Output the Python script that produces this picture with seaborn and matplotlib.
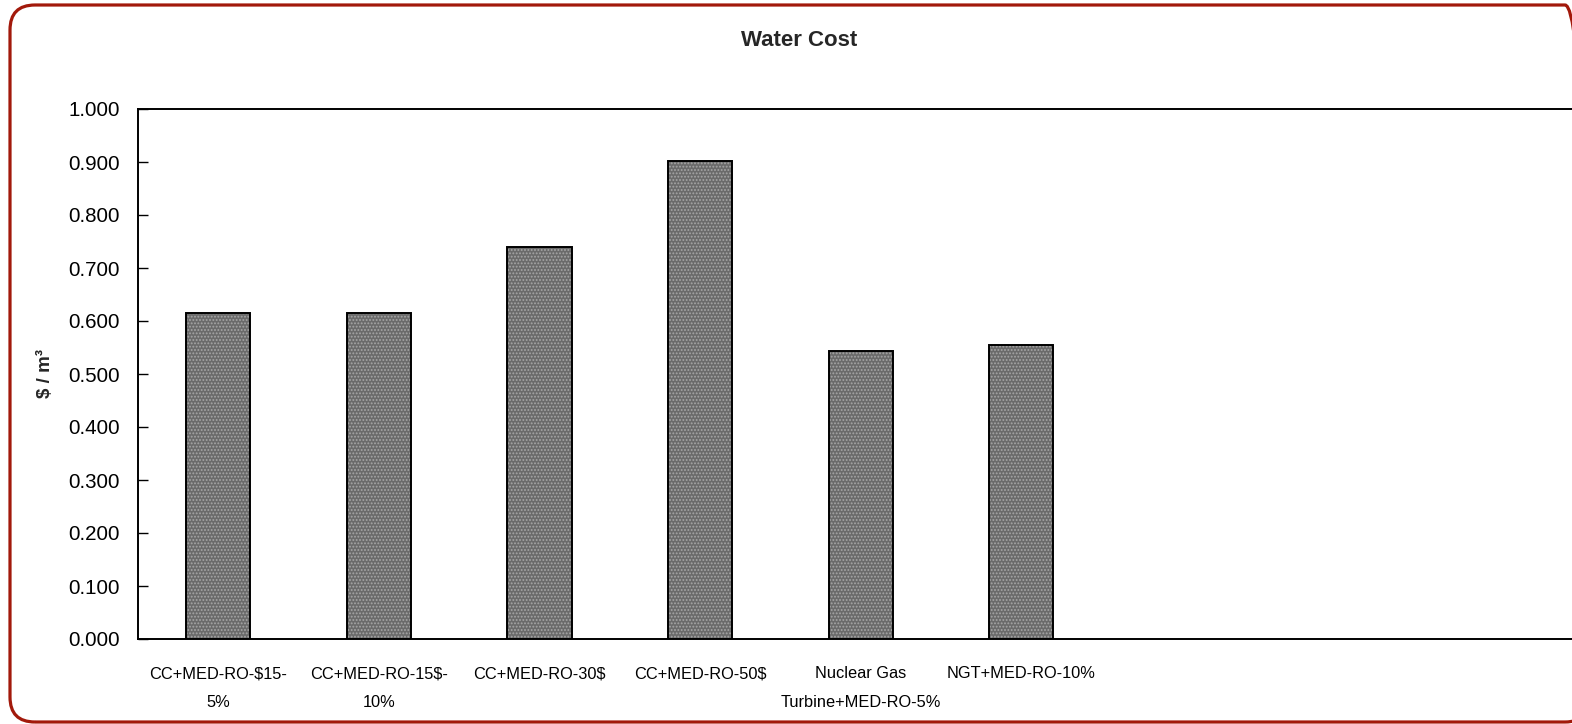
import matplotlib
matplotlib.use('Agg')
import matplotlib.pyplot as plt
import matplotlib.patches as mpatches
import matplotlib.transforms as mtransforms
import pandas as pd
import seaborn as sns

# Data
categories = ['CC+MED-RO-$15-\n5%', 'CC+MED-RO-15$-\n10%', 'CC+MED-RO-30$',
              'CC+MED-RO-50$', 'Nuclear Gas\nTurbine+MED-RO-5%', 'NGT+MED-RO-10%']
water_cost = [0.615, 0.615, 0.739, 0.902, 0.544, 0.554]
y_ticks = [0.0, 0.1, 0.2, 0.3, 0.4, 0.5, 0.6, 0.7, 0.8, 0.9, 1.0]

sns.set_theme(style='white')
plt.rcParams['font.family'] = ['Liberation Sans', 'DejaVu Sans']
plt.rcParams['hatch.linewidth'] = 0.9

df = pd.DataFrame({'scenario': categories, 'cost': water_cost})

W, H = 1572, 724
fig = plt.figure(figsize=(W / 100, H / 100), dpi=100)
# plot area runs past the right edge of the picture, like the cropped original
ax = fig.add_axes([138 / W, (H - 639) / H, 1606 / W, 530 / H])

# hatched fill first, then a black outline on top
sns.barplot(data=df, x='scenario', y='cost', color='#6a6a6a', saturation=1,
            width=0.4, hatch='.....', edgecolor='#a6a6a6', linewidth=0, ax=ax)
sns.barplot(data=df, x='scenario', y='cost', color='black', fill=False,
            width=0.4, linewidth=1.4, ax=ax)

ax.set_xlim(-0.5, 9.5)
ax.set_ylim(0, 1)
ax.set_yticks(y_ticks)
ax.set_yticklabels([f'{v:.3f}' for v in y_ticks])
ax.set_xticks(range(len(categories)))
ax.set_xticklabels([c.replace('$', r'\$') for c in categories], fontsize=11.8)
for lbl in ax.get_xticklabels():
    lbl.set_linespacing(2.2)

ax.tick_params(axis='y', direction='in', length=7, width=1, colors='black',
               labelsize=14.8, pad=13, left=True)
ax.tick_params(axis='x', length=0, pad=19.5, labelcolor='black')

for s in ax.spines.values():
    s.set_color('black')
    s.set_linewidth(1.4)

ax.set_xlabel('')
ax.set_ylabel(r'\$ / m³', fontsize=13.5, fontweight='bold', labelpad=10)

fig.text(799 / W, 1 - 46 / H, 'Water Cost', ha='center', va='baseline',
         fontsize=16, fontweight='bold')

# rounded red chart frame, in pixel coordinates
frame = mpatches.FancyBboxPatch((10, 2), 1580, 717,
                                boxstyle='round,pad=0,rounding_size=25',
                                transform=mtransforms.IdentityTransform(),
                                fill=False, edgecolor='#A2190B', linewidth=2.3)
fig.add_artist(frame)

fig.savefig('out.png', dpi=100)
